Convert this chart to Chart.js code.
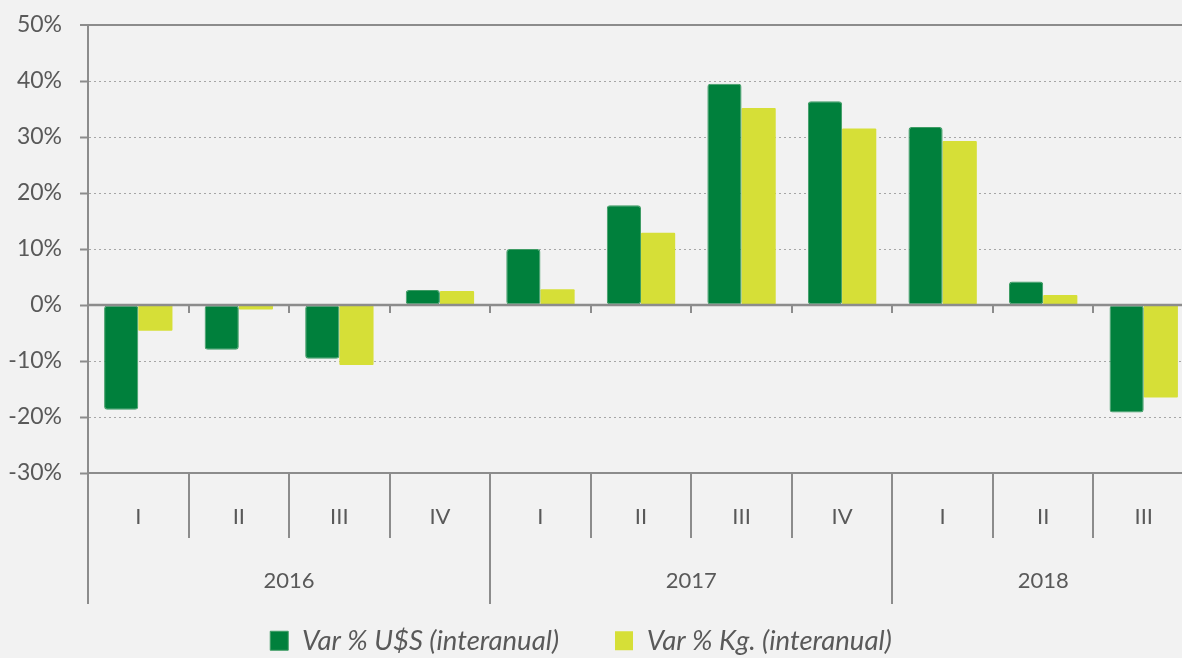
<!DOCTYPE html>
<html>
<head>
<meta charset="utf-8">
<script src="https://cdn.jsdelivr.net/npm/chart.js@4.4.1/dist/chart.umd.min.js"></script>
<style>
  html, body { margin: 0; padding: 0; background: #f2f2f2; overflow: hidden; }
  #wrap { width: 1194px; height: 658px; position: relative; }
</style>
</head>
<body>
<div id="wrap"><canvas id="myChart"></canvas></div>
<script>
// datos
const quarters = ['I', 'II', 'III', 'IV', 'I', 'II', 'III', 'IV', 'I', 'II', 'III'];
const years = ['2016', '2017', '2018'];
const yearSpans = [4, 4, 3];
const varUSD = [-18.7, -8.0, -9.6, 2.7, 10.0, 17.8, 39.5, 36.4, 31.8, 4.2, -19.2];
const varKg = [-4.6, -0.8, -10.7, 2.5, 2.8, 12.9, 35.2, 31.5, 29.3, 1.8, -16.5];
const seriesNames = ['Var % U$S (interanual)', 'Var % Kg. (interanual)'];

const axisGray = '#8c8c8c';
const textGray = '#595959';
const font = 'Lato';
const legendPad = 56;

// Altura fija de la leyenda y posicion del texto
const legendPlace = {
    id: 'legendPlace',
    beforeInit(chart) {
        const origFit = chart.legend.fit;
        chart.legend.fit = function () {
            origFit.bind(chart.legend)();
            this.height = 54;
        };
    },
    afterLayout(chart) {
        // el texto queda en top + padding
        chart.legend.top = 627 - legendPad;
        chart.legend.left -= 16;
        chart.legend.right -= 16;
    }
};

// Ejes por debajo: separadores, años y linea del cero
const axisDecor = {
    id: 'axisDecor',
    afterDatasetsDraw(chart) {
        const { ctx, chartArea, scales } = chart;
        const x = scales.x, y = scales.y;
        const y0 = y.getPixelForValue(0);
        ctx.save();
        ctx.strokeStyle = axisGray;
        // linea del cero sobre las barras
        ctx.lineWidth = 2.5;
        ctx.beginPath();
        ctx.moveTo(chartArea.left, y0);
        ctx.lineTo(chartArea.right, y0);
        ctx.stroke();
        // marcas cortas en el cero
        ctx.lineWidth = 2;
        for (let i = 1; i < quarters.length; i++) {
            const bx = Math.round((x.getPixelForValue(i - 1) + x.getPixelForValue(i)) / 2);
            ctx.beginPath();
            ctx.moveTo(bx, y0);
            ctx.lineTo(bx, y0 + 8);
            ctx.stroke();
        }
        ctx.restore();
    },
    afterDraw(chart) {
        const { ctx, chartArea, scales } = chart;
        const x = scales.x;
        const half = (x.getPixelForValue(1) - x.getPixelForValue(0)) / 2;
        const bottom = chartArea.bottom;
        ctx.save();
        ctx.strokeStyle = axisGray;
        ctx.lineWidth = 2;
        // bordes de cada año
        let yearStart = [0];
        yearSpans.forEach((n, i) => yearStart.push(yearStart[i] + n));
        for (let i = 0; i <= quarters.length; i++) {
            const bx = Math.round(x.getPixelForValue(i) - half);
            const isYear = yearStart.includes(i);
            ctx.beginPath();
            ctx.moveTo(bx, bottom);
            ctx.lineTo(bx, bottom + (isYear ? 131 : 65));
            ctx.stroke();
        }
        // etiquetas de años
        ctx.fillStyle = textGray;
        ctx.font = '22px ' + font;
        ctx.textAlign = 'center';
        ctx.textBaseline = 'middle';
        years.forEach((yr, i) => {
            const a = x.getPixelForValue(yearStart[i]) - half;
            const b = x.getPixelForValue(yearStart[i + 1] - 1) + half;
            ctx.fillText(yr, (a + b) / 2, bottom + 108);
        });
        ctx.restore();
    }
};

const ctx = document.getElementById('myChart').getContext('2d');
const myChart = new Chart(ctx, {
    type: 'bar',
    data: {
        labels: quarters,
        datasets: [{
            label: seriesNames[0],
            data: varUSD,
            backgroundColor: '#00803c',
            borderColor: '#3f9c65',
            borderWidth: 1,
            borderRadius: 3,
            borderSkipped: false,
            categoryPercentage: 0.68,
            barPercentage: 1.0
        }, {
            label: seriesNames[1],
            data: varKg,
            backgroundColor: '#d6df37',
            borderColor: '#d6df37',
            borderWidth: 0,
            borderRadius: 1,
            borderSkipped: false,
            categoryPercentage: 0.68,
            barPercentage: 1.0
        }]
    },
    options: {
        responsive: true,
        maintainAspectRatio: false,
        animation: false,
        layout: { autoPadding: false, padding: { top: 25, left: 0, right: 0, bottom: 0 } },
        plugins: {
            legend: {
                position: 'bottom',
                labels: {
                    color: textGray,
                    font: { family: font, size: 27.5, style: 'italic' },
                    boxWidth: 18,
                    boxHeight: 19,
                    padding: legendPad
                }
            },
            tooltip: { enabled: false }
        },
        scales: {
            x: {
                grid: { display: false, drawTicks: false },
                border: { display: true, color: axisGray, width: 2 },
                ticks: {
                    color: textGray,
                    font: { family: font, size: 22 },
                    padding: 31,
                    maxRotation: 0,
                    autoSkip: false
                },
                afterFit: (s) => { s.height = 131; }
            },
            y: {
                min: -30,
                max: 50,
                ticks: {
                    stepSize: 10,
                    color: textGray,
                    font: { family: font, size: 23 },
                    padding: 18,
                    callback: (v) => v + '%'
                },
                grid: {
                    color: (c) => (c.tick && c.tick.value === 0) ? 'rgba(0,0,0,0)' : (c.tick && c.tick.value === 50 ? axisGray : '#a6a6a6'),
                    lineWidth: (c) => (c.tick && c.tick.value === 50) ? 2 : 1,
                    tickColor: axisGray,
                    tickLength: 8,
                    tickWidth: 2
                },
                border: {
                    display: true,
                    color: axisGray,
                    width: 2,
                    dash: (c) => (c.tick && c.tick.value === 50) ? [] : [2, 3]
                },
                afterFit: (s) => {
                    s.width = 88;
                    s.paddingTop = 0;
                    s.paddingBottom = 0;
                }
            }
        }
    },
    plugins: [axisDecor, legendPlace]
});
</script>
</body>
</html>
